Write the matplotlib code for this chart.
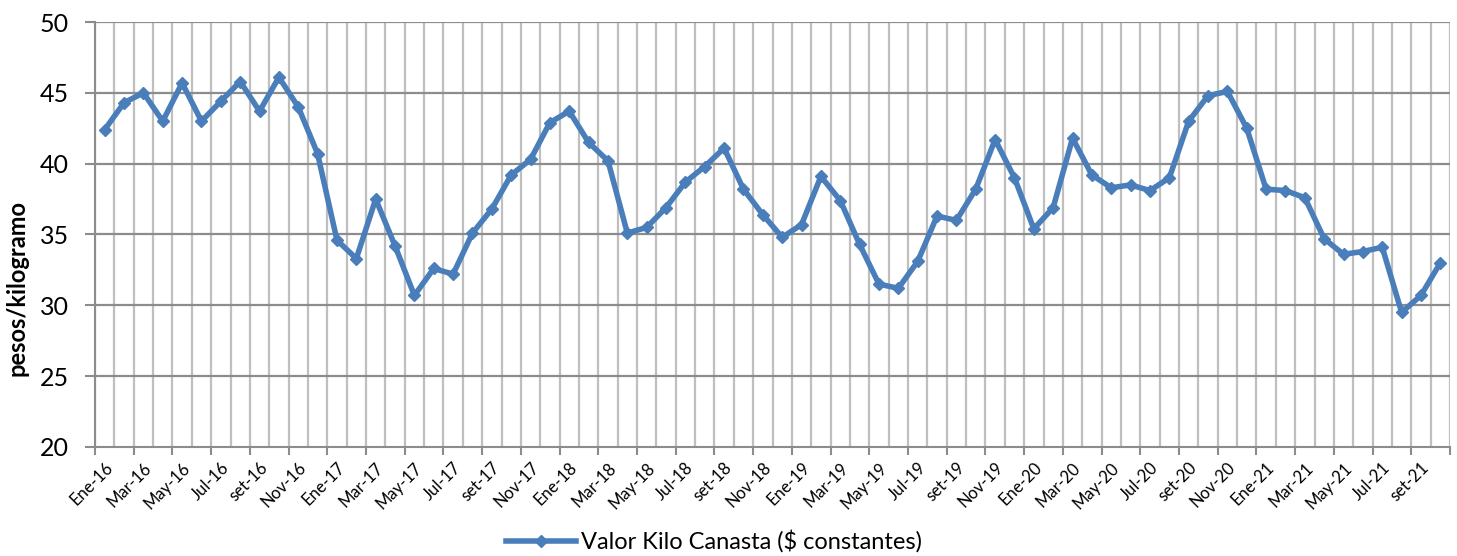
import matplotlib.pyplot as plt
import numpy as np

meses = ['Ene', 'Feb', 'Mar', 'Abr', 'May', 'Jun', 'Jul', 'Ago', 'set', 'Oct', 'Nov', 'Dic']
anios = ['16', '17', '18', '19', '20', '21']
periodos = [m + '-' + a for a in anios for m in meses][:70]

valor_kilo = [
    42.4, 44.3, 45.0, 43.0, 45.7, 43.0, 44.4, 45.8, 43.7, 46.1, 44.0, 40.7,
    34.6, 33.3, 37.5, 34.2, 30.7, 32.6, 32.2, 35.1, 36.8, 39.2, 40.3, 42.9,
    43.7, 41.5, 40.2, 35.1, 35.5, 36.9, 38.7, 39.8, 41.1, 38.2, 36.4, 34.8,
    35.7, 39.1, 37.4, 34.3, 31.5, 31.2, 33.1, 36.3, 36.0, 38.2, 41.7, 39.0,
    35.4, 36.9, 41.8, 39.2, 38.3, 38.5, 38.1, 39.0, 43.0, 44.8, 45.1, 42.5,
    38.2, 38.1, 37.6, 34.7, 33.6, 33.8, 34.1, 29.5, 30.7, 33.0,
]
yticks = [20, 25, 30, 35, 40, 45, 50]

plt.rcParams['font.family'] = ['Lato', 'DejaVu Sans']

fig = plt.figure(figsize=(14.57, 5.56), dpi=100)
ax = fig.add_axes([95 / 1457, 109 / 556, 1355 / 1457, 425 / 556])

x = np.arange(len(valor_kilo))
n = len(valor_kilo)

# grid
ax.vlines(np.arange(n + 1) - 0.5, 20, 50, color='#bfbfbf', lw=1.6, zorder=1)
for yv in yticks[1:]:
    ax.axhline(yv, color='#8c8c8c', lw=1.6, zorder=1)

line, = ax.plot(x, valor_kilo, color='#4a7ebb', lw=4, marker='D', ms=6,
                label='Valor Kilo Canasta ($ constantes)', zorder=3)

ax.set_xlim(-0.5, n - 0.5)
ax.set_ylim(20, 50)
ax.set_yticks(yticks)
ax.tick_params(axis='y', labelsize=18, length=7, color='#8c8c8c', width=1.5, pad=12)

ax.set_xticks(np.arange(0, n + 1, 2) - 0.5)
ax.set_xticklabels([])
ax.tick_params(axis='x', which='major', length=6, color='#8c8c8c', width=1.5)
ax.set_xticks(x[::2], minor=True)
ax.set_xticklabels(periodos[::2], minor=True, rotation=45, ha='right',
                   va='top', rotation_mode='anchor', fontsize=12)
ax.tick_params(axis='x', which='minor', length=0, pad=9)

for s in ['top', 'right']:
    ax.spines[s].set_visible(False)
for s in ['left', 'bottom']:
    ax.spines[s].set_color('#8c8c8c')
    ax.spines[s].set_linewidth(1.5)

ax.set_ylabel('pesos/kilogramo', fontsize=17, fontweight='bold')
ax.yaxis.set_label_coords(-66 / 1355, 0.374)

fig.legend(handles=[line], loc='center', bbox_to_anchor=(0.49, 0.026),
           frameon=False, fontsize=17, handlelength=3, handletextpad=0.2)

fig.savefig('out.png', dpi=100)
